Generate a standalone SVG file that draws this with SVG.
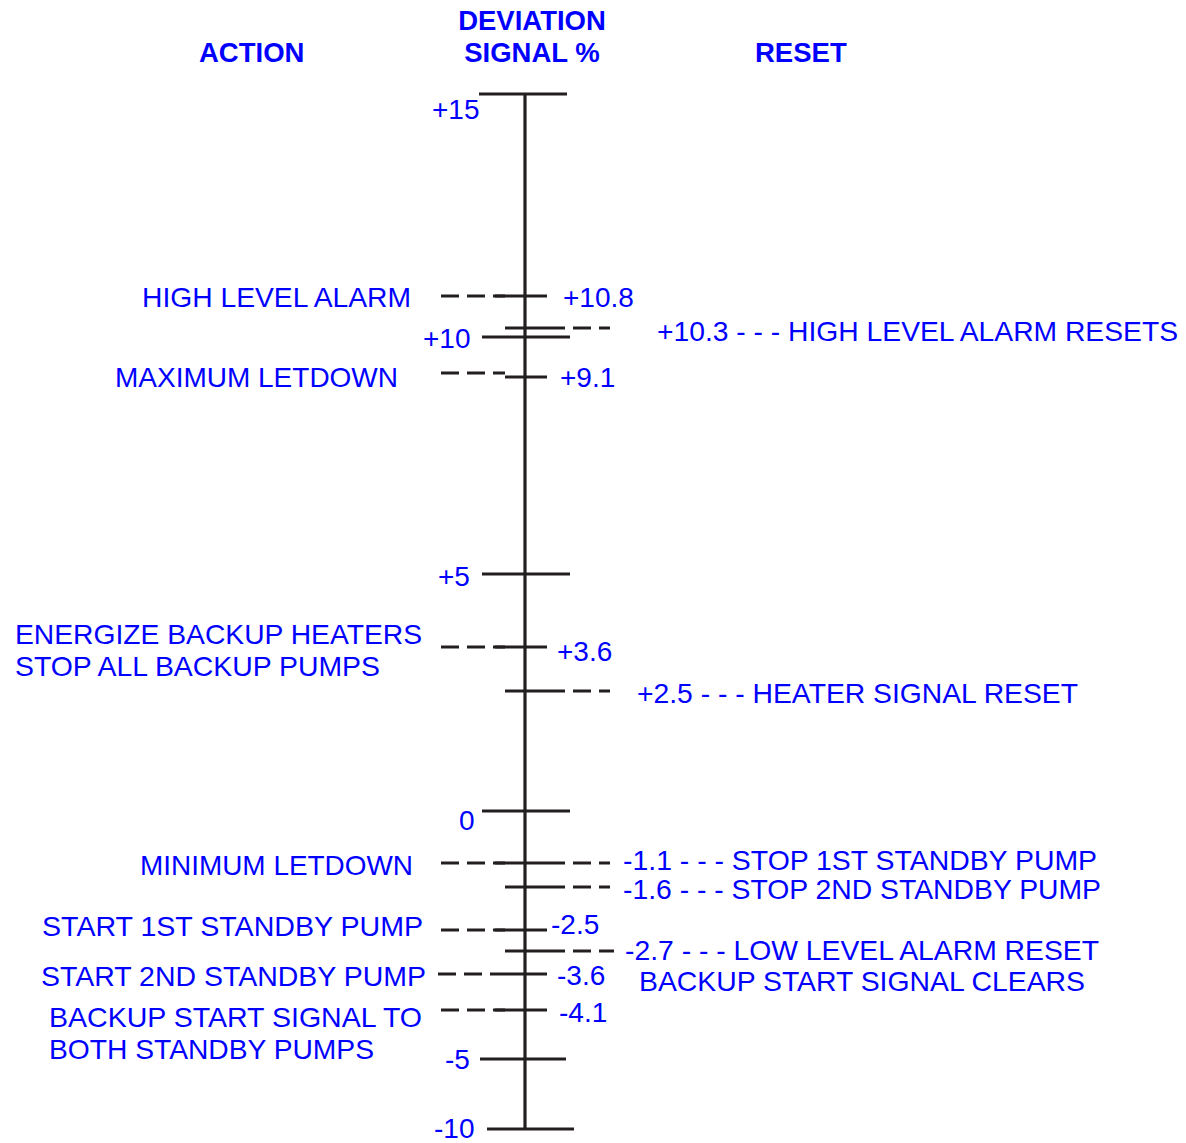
<svg xmlns="http://www.w3.org/2000/svg" width="1186" height="1143" viewBox="0 0 1186 1143">
<style>
.t{font-family:"Liberation Sans",Arial,sans-serif;font-size:28px;fill:#0000FF}
.h{font-family:"Liberation Sans",Arial,sans-serif;font-size:27.5px;font-weight:bold;fill:#0000FF}
.s{stroke:#231f20;stroke-width:3.2;fill:none}
.d{stroke:#231f20;stroke-width:3.2;fill:none;stroke-dasharray:18 8}
</style>
<rect width="1186" height="1143" fill="#ffffff"/>
<g id="headings">
<text class="h" x="199" y="62">ACTION</text>
<text class="h" x="532" y="30" text-anchor="middle">DEVIATION</text>
<text class="h" x="532" y="62" text-anchor="middle">SIGNAL %</text>
<text class="h" x="755" y="62">RESET</text>
</g>
<g id="scale">
<line class="s" x1="525" y1="94" x2="525" y2="1129"/>
<line class="s" x1="479" y1="94" x2="567" y2="94"/>
<line class="s" x1="482" y1="337" x2="570" y2="337"/>
<line class="s" x1="482" y1="574" x2="570" y2="574"/>
<line class="s" x1="482" y1="811" x2="570" y2="811"/>
<line class="s" x1="480" y1="1059" x2="566" y2="1059"/>
<line class="s" x1="487" y1="1129" x2="574" y2="1129"/>
<text class="t" x="432" y="119">+15</text>
<text class="t" x="423" y="348">+10</text>
<text class="t" x="438" y="586">+5</text>
<text class="t" x="459" y="830">0</text>
<text class="t" x="445" y="1069">-5</text>
<text class="t" x="434" y="1138">-10</text>
</g>
<g id="connectors">
<line class="d" x1="441" y1="296" x2="505" y2="296"/>
<line class="s" x1="495" y1="296" x2="547" y2="296"/>
<line class="s" x1="505" y1="328" x2="547" y2="328"/>
<line class="d" x1="547" y1="328" x2="610" y2="328"/>
<line class="d" x1="441" y1="373" x2="505" y2="373"/>
<line class="s" x1="505" y1="377" x2="547" y2="377"/>
<line class="d" x1="441" y1="647" x2="505" y2="647"/>
<line class="s" x1="495" y1="647" x2="547" y2="647"/>
<line class="s" x1="505" y1="691" x2="547" y2="691"/>
<line class="d" x1="547" y1="691" x2="610" y2="691"/>
<line class="d" x1="441" y1="863" x2="505" y2="863"/>
<line class="s" x1="495" y1="863" x2="547" y2="863"/>
<line class="d" x1="547" y1="863" x2="610" y2="863"/>
<line class="s" x1="505" y1="887" x2="547" y2="887"/>
<line class="d" x1="547" y1="887" x2="610" y2="887"/>
<line class="d" x1="441" y1="930" x2="505" y2="930"/>
<line class="s" x1="495" y1="930" x2="547" y2="930"/>
<line class="s" x1="505" y1="951" x2="547" y2="951"/>
<line class="d" x1="547" y1="951" x2="614" y2="951"/>
<line class="d" x1="438" y1="974" x2="505" y2="974"/>
<line class="s" x1="505" y1="974" x2="547" y2="974"/>
<line class="d" x1="441" y1="1010" x2="505" y2="1010"/>
<line class="s" x1="495" y1="1010" x2="547" y2="1010"/>
</g>
<g id="actions">
<text class="t" x="142" y="307" textLength="269" lengthAdjust="spacingAndGlyphs">HIGH LEVEL ALARM</text>
<text class="t" x="115" y="387" textLength="283" lengthAdjust="spacingAndGlyphs">MAXIMUM LETDOWN</text>
<text class="t" x="15" y="644" textLength="407" lengthAdjust="spacingAndGlyphs">ENERGIZE BACKUP HEATERS</text>
<text class="t" x="15" y="676" textLength="365" lengthAdjust="spacingAndGlyphs">STOP ALL BACKUP PUMPS</text>
<text class="t" x="140" y="875" textLength="273" lengthAdjust="spacingAndGlyphs">MINIMUM LETDOWN</text>
<text class="t" x="42" y="936" textLength="381" lengthAdjust="spacingAndGlyphs">START 1ST STANDBY PUMP</text>
<text class="t" x="41" y="986" textLength="385" lengthAdjust="spacingAndGlyphs">START 2ND STANDBY PUMP</text>
<text class="t" x="49" y="1027" textLength="373" lengthAdjust="spacingAndGlyphs">BACKUP START SIGNAL TO</text>
<text class="t" x="49" y="1059" textLength="325" lengthAdjust="spacingAndGlyphs">BOTH STANDBY PUMPS</text>
</g>
<g id="values">
<text class="t" x="563" y="307">+10.8</text>
<text class="t" x="560" y="387">+9.1</text>
<text class="t" x="557" y="661">+3.6</text>
<text class="t" x="551" y="934">-2.5</text>
<text class="t" x="557" y="985">-3.6</text>
<text class="t" x="559" y="1022">-4.1</text>
</g>
<g id="resets">
<text class="t" x="657" y="341" textLength="521" lengthAdjust="spacingAndGlyphs">+10.3 - - - HIGH LEVEL ALARM RESETS</text>
<text class="t" x="637" y="703" textLength="441" lengthAdjust="spacingAndGlyphs">+2.5 - - - HEATER SIGNAL RESET</text>
<text class="t" x="623" y="870" textLength="474" lengthAdjust="spacingAndGlyphs">-1.1 - - - STOP 1ST STANDBY PUMP</text>
<text class="t" x="623" y="899" textLength="478" lengthAdjust="spacingAndGlyphs">-1.6 - - - STOP 2ND STANDBY PUMP</text>
<text class="t" x="625" y="960" textLength="474" lengthAdjust="spacingAndGlyphs">-2.7 - - - LOW LEVEL ALARM RESET</text>
<text class="t" x="639" y="991" textLength="446" lengthAdjust="spacingAndGlyphs">BACKUP START SIGNAL CLEARS</text>
</g>
</svg>
